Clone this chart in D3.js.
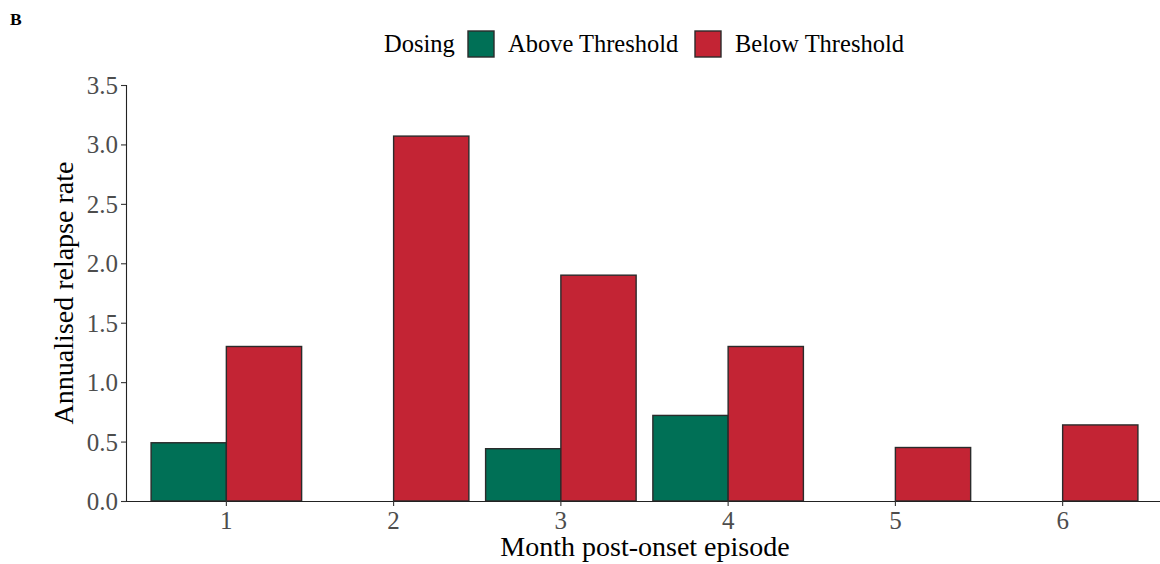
<!DOCTYPE html>
<html>
<head>
<meta charset="utf-8">
<script src="https://cdn.jsdelivr.net/npm/d3@7"></script>
<style>
  html, body { margin: 0; padding: 0; background: #fff; }
  svg { display: block; font-family: "Liberation Serif", "Times New Roman", serif; }
</style>
</head>
<body>
<svg id="chart" width="1160" height="564"></svg>
<script>
const months = ["1", "2", "3", "4", "5", "6"];
const groups = ["Above Threshold", "Below Threshold"];
const aboveValues = [0.49, null, 0.44, 0.72, null, null];
const belowValues = [1.30, 3.07, 1.90, 1.30, 0.45, 0.64];
const yTicks = [0, 0.5, 1.0, 1.5, 2.0, 2.5, 3.0, 3.5];
const groupColors = ["#007056", "#C32434"];

(function () {
const svg = d3.select("#chart");
const pLeft = 126, pRight = 1163, pTop = 85, pBottom = 501;

const x = d3.scaleBand().domain(months).range([pLeft, pRight]).paddingInner(0).paddingOuter(0.1);
const y = d3.scaleLinear().domain([0, 3.5]).range([pBottom, pTop]);
const color = d3.scaleOrdinal().domain(groups).range(groupColors);

const data = [];
months.forEach((m, i) => {
  data.push({ month: m, group: groups[0], value: aboveValues[i] });
  data.push({ month: m, group: groups[1], value: belowValues[i] });
});

const step = x.step();
const inner = d3.scaleBand().domain(groups).range([0, step * 0.9]).padding(0);
const offset = (x.bandwidth() - step * 0.9) / 2;

svg.append("g").selectAll("rect")
  .data(data.filter(d => d.value != null))
  .join("rect")
  .attr("x", d => x(d.month) + offset + inner(d.group))
  .attr("y", d => y(d.value))
  .attr("width", inner.bandwidth())
  .attr("height", d => y(0) - y(d.value))
  .attr("fill", d => color(d.group))
  .attr("stroke", "#2b2b2b")
  .attr("stroke-width", 1.4);

// Y axis
const yAxis = svg.append("g")
  .attr("transform", `translate(${pLeft},0)`)
  .call(d3.axisLeft(y).tickValues(yTicks).tickFormat(d3.format(".1f")).tickSize(5).tickPadding(3));
yAxis.select(".domain").attr("stroke", "#222").attr("stroke-width", 1.1);
yAxis.selectAll(".tick line").attr("stroke", "#333").attr("stroke-width", 1.1);
yAxis.selectAll(".tick text")
  .attr("fill", "#4d4d4d")
  .style("font-size", "25px")
  .style("font-family", "'Liberation Serif', serif")
  .attr("dy", "0.34em");

// X axis
const xAxis = svg.append("g")
  .attr("transform", `translate(0,${pBottom})`)
  .call(d3.axisBottom(x).tickSize(5).tickPadding(3).tickSizeOuter(0));
xAxis.select(".domain").attr("stroke", "#222").attr("stroke-width", 1.1);
xAxis.selectAll(".tick line").attr("stroke", "#333").attr("stroke-width", 1.1);
xAxis.selectAll(".tick text")
  .attr("fill", "#4d4d4d")
  .style("font-size", "25px")
  .style("font-family", "'Liberation Serif', serif")
  .attr("dy", "0.78em");

// Axis titles
svg.append("text")
  .attr("x", 645)
  .attr("y", 556)
  .attr("text-anchor", "middle")
  .style("font-size", "28px")
  .attr("fill", "#000")
  .text("Month post-onset episode");

svg.append("text")
  .attr("transform", `translate(73,${(pTop + pBottom) / 2}) rotate(-90)`)
  .attr("text-anchor", "middle")
  .style("font-size", "28px")
  .attr("fill", "#000")
  .text("Annualised relapse rate");

// Panel tag
svg.append("text")
  .attr("x", 10)
  .attr("y", 25)
  .style("font-size", "17.5px")
  .style("font-weight", "bold")
  .text("B");

// Legend
const legend = svg.append("g");
legend.append("text")
  .attr("x", 384).attr("y", 52)
  .style("font-size", "24.5px")
  .text("Dosing");
const keyX = [468, 695];
const labX = [508, 735];
groups.forEach((g, i) => {
  legend.append("rect")
    .attr("x", keyX[i]).attr("y", 31)
    .attr("width", 26).attr("height", 26)
    .attr("fill", color(g))
    .attr("stroke", "#2b2b2b")
    .attr("stroke-width", 1.4);
  legend.append("text")
    .attr("x", labX[i]).attr("y", 52)
    .style("font-size", "24.5px")
    .text(g);
});
})();
</script>
</body>
</html>
